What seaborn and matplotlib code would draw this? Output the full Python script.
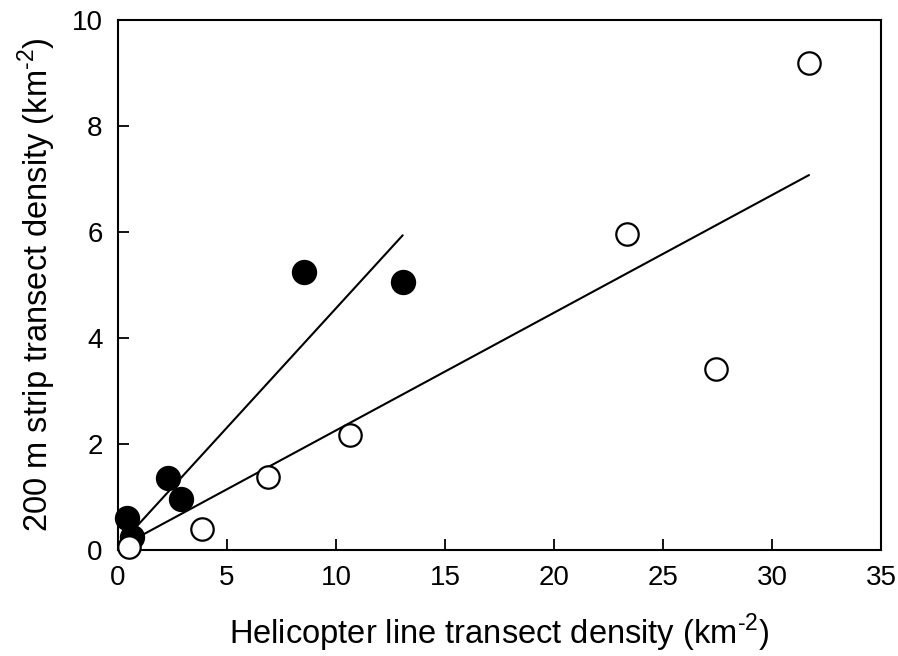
import numpy as np
import pandas as pd
import matplotlib
matplotlib.use("Agg")
import matplotlib.pyplot as plt
import seaborn as sns

# Data
filled_x = [0.41, 0.64, 2.29, 2.89, 8.55, 13.06]
filled_y = [0.60, 0.25, 1.36, 0.96, 5.24, 5.06]
open_x = [0.50, 3.87, 6.90, 10.64, 23.33, 27.43, 31.70]
open_y = [0.06, 0.40, 1.38, 2.17, 5.96, 3.41, 9.19]
# Fitted lines (intercept, slope)
filled_fit = (0.06, 0.45)
open_fit = (0.036, 0.222)

x_ticks = [0, 5, 10, 15, 20, 25, 30, 35]
y_ticks = [0, 2, 4, 6, 8, 10]

sns.set_theme(style="ticks")
plt.rcParams['font.family'] = ['Liberation Sans', 'DejaVu Sans']
plt.rcParams['axes.unicode_minus'] = False
plt.rcParams['mathtext.fontset'] = 'custom'
plt.rcParams['mathtext.rm'] = 'Liberation Sans'

fig = plt.figure(figsize=(8.98, 6.56), dpi=100)
ax = fig.add_axes([0.1314, 0.1616, 0.8496, 0.808])

# fit lines
for xs, (a, b) in [(filled_x, filled_fit), (open_x, open_fit)]:
    lx = np.array([min(xs), max(xs)])
    ly = a + b * lx
    sns.lineplot(x=lx, y=ly, ax=ax, color="black", linewidth=1.5, zorder=2)

df_f = pd.DataFrame({"x": filled_x, "y": filled_y})
df_o = pd.DataFrame({"x": open_x, "y": open_y})
sns.scatterplot(data=df_f, x="x", y="y", ax=ax, s=290, color="black",
                edgecolor="black", linewidth=1.2, zorder=3, clip_on=False)
sns.scatterplot(data=df_o, x="x", y="y", ax=ax, s=260, facecolor="white",
                edgecolor="black", linewidth=1.6, zorder=4, clip_on=False)

ax.set_xlim(0, 35)
ax.set_ylim(0, 10)
ax.set_xticks(x_ticks)
ax.set_yticks(y_ticks)
ax.set_xticklabels([str(t) for t in x_ticks])
ax.set_yticklabels([str(t) for t in y_ticks])
ax.tick_params(direction="in", length=8, width=1.3, labelsize=20, pad=11,
               colors="black")
for sp in ax.spines.values():
    sp.set_color("black")
    sp.set_linewidth(1.5)
    sp.set_visible(True)

ax.set_xlabel(r"Helicopter line transect density (km$^{\text{-2}}$)",
              fontsize=23.5, labelpad=15, color="black")
ax.set_ylabel(r"200 m strip transect density (km$^{\text{-2}}$)",
              fontsize=23.5, labelpad=10, color="black")

fig.savefig("out.png", dpi=100)
